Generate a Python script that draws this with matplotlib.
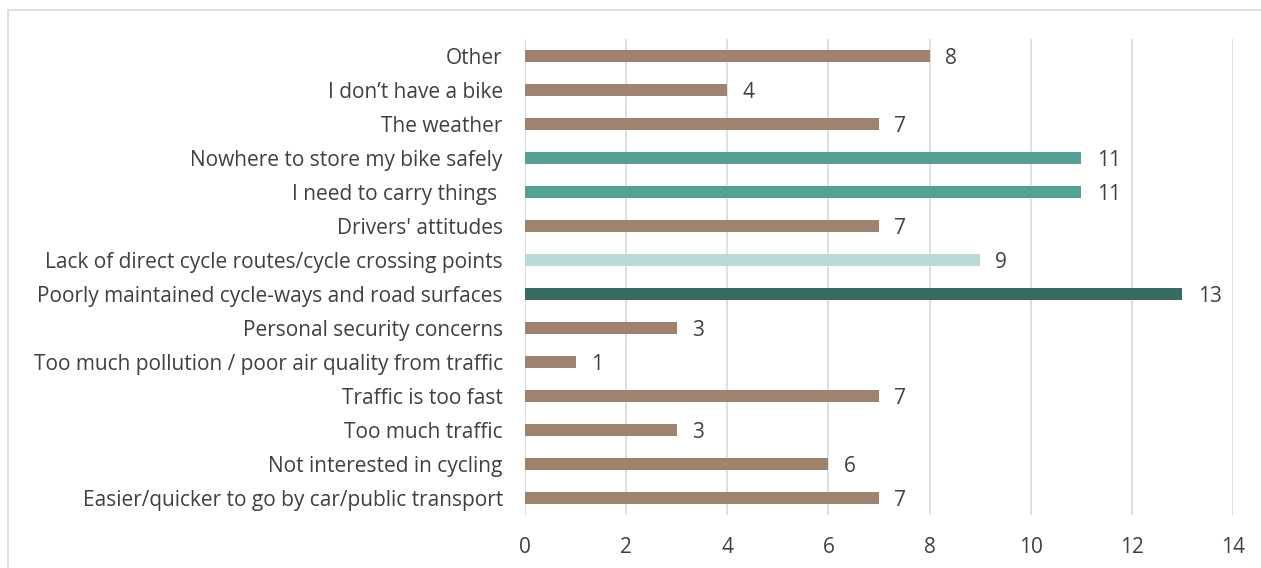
import matplotlib
matplotlib.use("Agg")
import matplotlib.pyplot as plt
from matplotlib.patches import Rectangle

categories = [
    "Easier/quicker to go by car/public transport",
    "Not interested in cycling",
    "Too much traffic",
    "Traffic is too fast",
    "Too much pollution / poor air quality from traffic",
    "Personal security concerns",
    "Poorly maintained cycle-ways and road surfaces",
    "Lack of direct cycle routes/cycle crossing points",
    "Drivers' attitudes",
    "I need to carry things ",
    "Nowhere to store my bike safely",
    "The weather",
    "I don\u2019t have a bike",
    "Other",
]
values = [7, 6, 3, 7, 1, 3, 13, 9, 7, 11, 11, 7, 4, 8]
BROWN, TEAL, LIGHT, DARK = "#A0836E", "#54A094", "#B8D9D4", "#376A60"
colors = [BROWN, BROWN, BROWN, BROWN, BROWN, BROWN, DARK, LIGHT, BROWN, TEAL, TEAL, BROWN, BROWN, BROWN]
xticks = [0, 2, 4, 6, 8, 10, 12, 14]

plt.rcParams['font.family'] = ['Open Sans', 'DejaVu Sans']
fig = plt.figure(figsize=(12.61, 5.68), dpi=100)
ax = fig.add_axes([525/1261, 1-515/568, (1233-525)/1261, (515-39)/568])

y = list(range(len(categories)))
ax.barh(y, values, height=0.33, color=colors, zorder=3)
for yi, v in zip(y, values):
    ax.annotate(str(v), (v, yi), xytext=(11, -1.5), textcoords="offset points",
                va="center", ha="left", fontsize=15, color="#404040")

ax.set_xlim(0, 14)
ax.set_ylim(-0.5, len(categories) - 0.5)
ax.set_xticks(xticks)
ax.set_yticks(y)
ax.set_yticklabels(categories)
ax.grid(axis="x", color="#D9D9D9", linewidth=1.2, zorder=0)
for s in ax.spines.values():
    s.set_visible(False)
ax.tick_params(axis="both", length=0, labelsize=15, labelcolor="#404040")
ax.tick_params(axis="y", pad=16)
ax.tick_params(axis="x", pad=16)

fig.patches.append(Rectangle((8/1261, -0.1), 1.2, 1 - 10/568 + 0.1, transform=fig.transFigure,
                             fill=False, edgecolor="#D9D9D9", linewidth=1.2))

fig.savefig("out.png", dpi=100)
